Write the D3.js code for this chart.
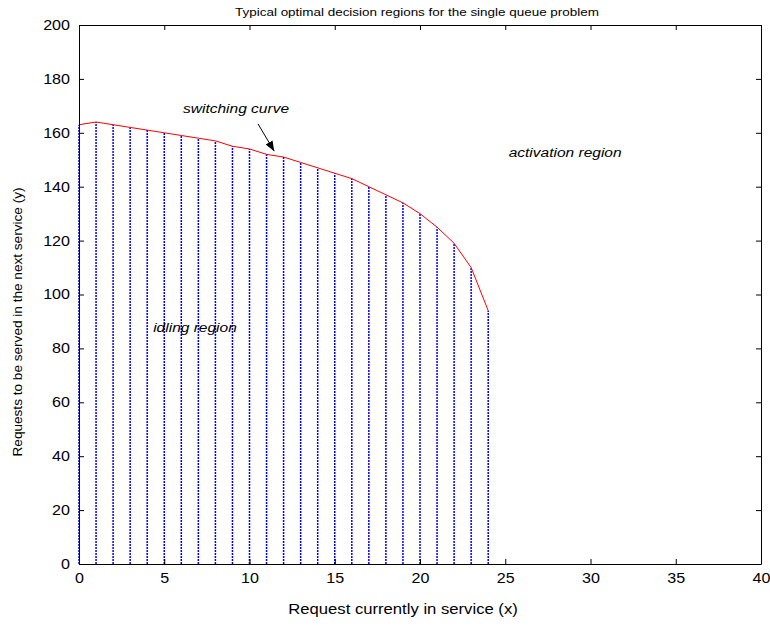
<!DOCTYPE html>
<html>
<head>
<meta charset="utf-8">
<script src="https://cdn.jsdelivr.net/npm/d3@7"></script>
<style>
  body { margin: 0; background: #fff; }
  text { font-family: "Liberation Sans", Arial, sans-serif; }
</style>
</head>
<body>
<div id="chart"></div>
<script>
// switching curve: threshold y for each x
const xValues = [0, 1, 2, 3, 4, 5, 6, 7, 8, 9, 10, 11, 12, 13, 14, 15, 16, 17, 18, 19, 20, 21, 22, 23, 24]
const yValues = [163, 164, 163, 162, 161, 160, 159, 158, 157, 155, 154, 152, 151, 149, 147, 145, 143, 140, 137, 134, 130, 125, 119, 110, 94]
const xTicks = [0, 5, 10, 15, 20, 25, 30, 35, 40]
const yTicks = [0, 20, 40, 60, 80, 100, 120, 140, 160, 180, 200]
const labels = [
  { text: "switching curve", x: 6.1, y: 168.5 },
  { text: "activation region", x: 25.2, y: 152.5 },
  { text: "idling region", x: 4.35, y: 87.5 },
]
const arrow = { x1: 10.5, y1: 163.3, x2: 11.45, y2: 153.2 }

const data = xValues.map((x, i) => ({ x, y: yValues[i] }))

// the original figure is a bit wider than it was drawn, so text is stretched sideways
const stretch = 1.15

const dimensions = {
  width: 770,
  height: 626,
  margin: { top: 25, right: 9, bottom: 62, left: 79 },
}
dimensions.boundedWidth = dimensions.width - dimensions.margin.left - dimensions.margin.right
dimensions.boundedHeight = dimensions.height - dimensions.margin.top - dimensions.margin.bottom

const svg = d3.select("#chart")
  .append("svg")
    .attr("width", dimensions.width)
    .attr("height", dimensions.height)

svg.append("defs").append("marker")
    .attr("id", "head")
    .attr("viewBox", "0 0 10 10")
    .attr("refX", 10)
    .attr("refY", 5)
    .attr("markerWidth", 10)
    .attr("markerHeight", 10)
    .attr("markerUnits", "userSpaceOnUse")
    .attr("orient", "auto")
  .append("path")
    .attr("d", "M0,1 L10,5 L0,9 Z")
    .attr("fill", "#000")

const bounds = svg.append("g")
  .attr("transform", `translate(${dimensions.margin.left},${dimensions.margin.top})`)

const xScale = d3.scaleLinear()
  .domain([0, 40])
  .range([0, dimensions.boundedWidth])

const yScale = d3.scaleLinear()
  .domain([0, 200])
  .range([dimensions.boundedHeight, 0])

// dotted stems for the idling region
bounds.append("g")
  .selectAll("line")
  .data(data)
  .join("line")
    .attr("x1", d => xScale(d.x))
    .attr("x2", d => xScale(d.x))
    .attr("y1", yScale(0))
    .attr("y2", d => yScale(d.y))
    .attr("stroke", "#0000ff")
    .attr("stroke-width", 1.5)
    .attr("stroke-dasharray", "2,1")

const line = d3.line()
  .x(d => xScale(d.x))
  .y(d => yScale(d.y))

bounds.append("path")
  .attr("d", line(data))
  .attr("fill", "none")
  .attr("stroke", "#ff0000")
  .attr("stroke-width", 1)

// axes with inward ticks on all four sides
const tickLen = 5
const fmt = d3.format("d")
const xAxis = bounds.append("g")
  .attr("transform", `translate(0,${dimensions.boundedHeight})`)
  .call(d3.axisBottom(xScale).tickValues(xTicks).tickFormat(fmt).tickSizeInner(-tickLen).tickSizeOuter(0).tickPadding(9))
bounds.append("g")
  .call(d3.axisTop(xScale).tickValues(xTicks).tickFormat("").tickSizeInner(-tickLen).tickSizeOuter(0))
const yAxis = bounds.append("g")
  .call(d3.axisLeft(yScale).tickValues(yTicks).tickFormat(fmt).tickSizeInner(-tickLen).tickSizeOuter(0).tickPadding(9))
bounds.append("g")
  .attr("transform", `translate(${dimensions.boundedWidth},0)`)
  .call(d3.axisRight(yScale).tickValues(yTicks).tickFormat("").tickSizeInner(-tickLen).tickSizeOuter(0))

bounds.selectAll(".tick text")
  .attr("font-family", "Liberation Sans, Arial, sans-serif")
  .attr("font-size", 14)
  .attr("fill", "#000")
xAxis.selectAll(".tick text")
  .attr("transform", `scale(${stretch},1)`)
yAxis.selectAll(".tick text")
  .attr("x", -9 / stretch)
  .attr("transform", `scale(${stretch},1)`)
bounds.selectAll(".domain, .tick line").attr("stroke", "#000")

// annotations
bounds.selectAll(".note")
  .data(labels)
  .join("text")
    .attr("class", "note")
    .attr("transform", d => `translate(${xScale(d.x)},${yScale(d.y)}) scale(${stretch},1)`)
    .attr("dominant-baseline", "middle")
    .attr("font-size", 13.5)
    .attr("font-style", "italic")
    .text(d => d.text)

bounds.append("line")
  .attr("x1", xScale(arrow.x1))
  .attr("y1", yScale(arrow.y1))
  .attr("x2", xScale(arrow.x2))
  .attr("y2", yScale(arrow.y2))
  .attr("stroke", "#000")
  .attr("stroke-width", 1)
  .attr("marker-end", "url(#head)")

// title and axis labels
svg.append("text")
  .attr("transform", `translate(417,16) scale(${stretch},1)`)
  .attr("text-anchor", "middle")
  .attr("font-size", 11.7)
  .text("Typical optimal decision regions for the single queue problem")

svg.append("text")
  .attr("transform", `translate(403,614) scale(${stretch},1)`)
  .attr("text-anchor", "middle")
  .attr("font-size", 14.5)
  .text("Request currently in service (x)")

svg.append("text")
  .attr("transform", `translate(22,322) rotate(-90)`)
  .attr("text-anchor", "middle")
  .attr("font-size", 13.6)
  .text("Requests to be served in the next service (y)")
</script>
</body>
</html>
